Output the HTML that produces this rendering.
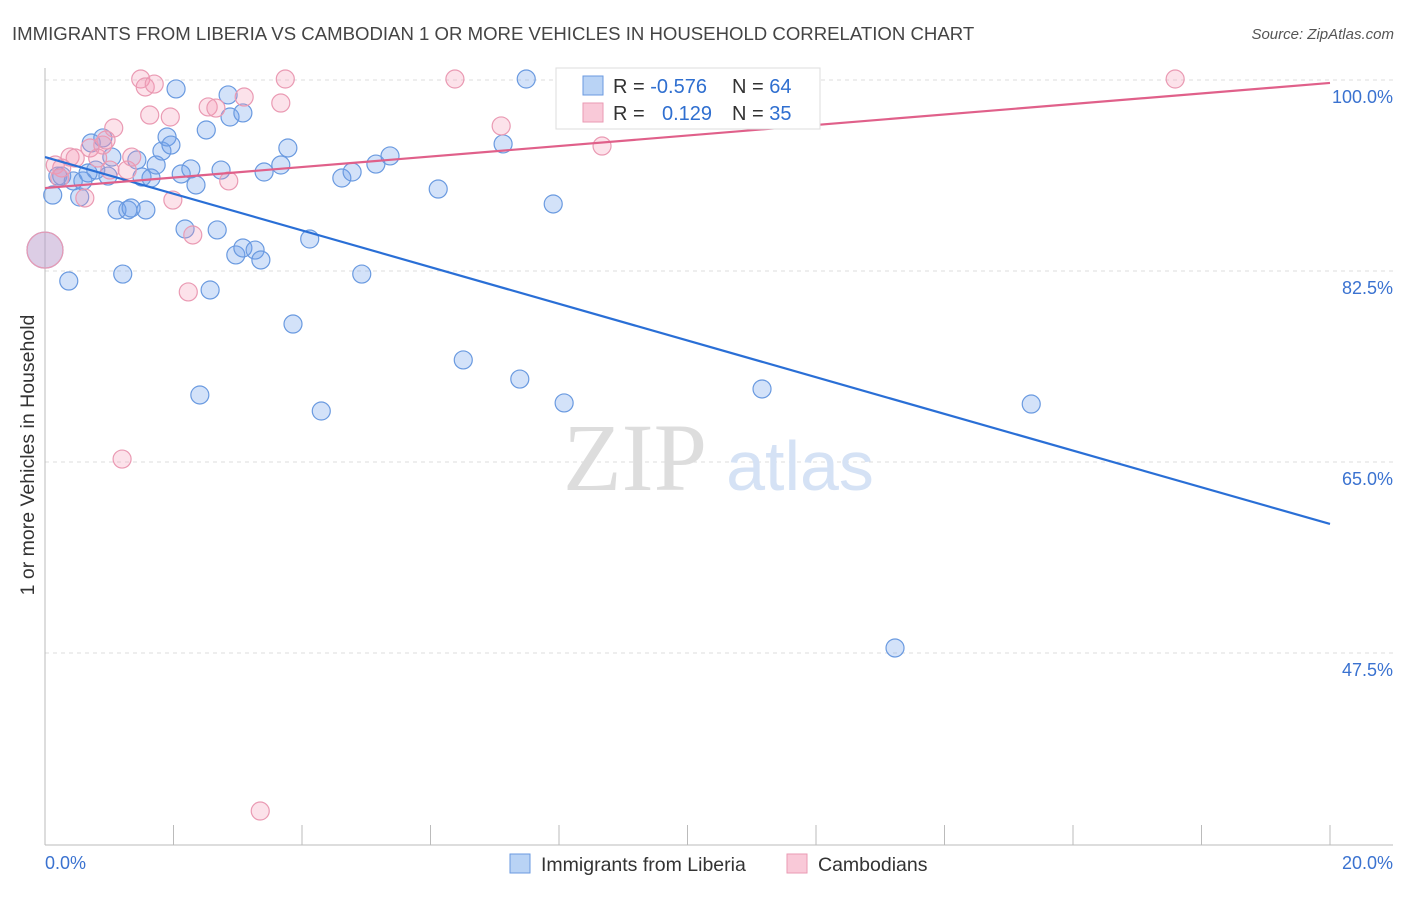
<!DOCTYPE html>
<html><head><meta charset="utf-8"><style>
body{margin:0;background:#fff;font-family:"Liberation Sans",sans-serif;}
</style></head><body>
<svg width="1406" height="892" xmlns="http://www.w3.org/2000/svg">
<text x="12" y="40" font-size="18.6" fill="#444">IMMIGRANTS FROM LIBERIA VS CAMBODIAN 1 OR MORE VEHICLES IN HOUSEHOLD CORRELATION CHART</text>
<text x="1394" y="39" font-size="15" fill="#555" font-style="italic" text-anchor="end">Source: ZipAtlas.com</text>
<g id="grid"></g>
<text x="635" y="490" font-size="96" fill="#ddd" font-family="Liberation Serif" text-anchor="middle">ZIP</text>
<text x="800" y="490" font-size="70" fill="#d5e2f5" text-anchor="middle">atlas</text>
<g id="pts"></g>
<g id="lines"></g>
<g>
<rect x="556" y="68" width="264" height="61" fill="#fff" stroke="#ddd"/>
<rect x="583" y="76" width="20" height="19" fill="#b9d3f5" stroke="#6a9ae0"/>
<rect x="583" y="103" width="20" height="19" fill="#f9c9d8" stroke="#ea9ab3"/>
<text x="613" y="93" font-size="20" fill="#333">R = <tspan fill="#2f6fd0">-0.576</tspan><tspan x="732">N = </tspan><tspan fill="#2f6fd0">64</tspan></text>
<text x="613" y="120" font-size="20" fill="#333">R = <tspan x="662" fill="#2f6fd0">0.129</tspan><tspan x="732">N = </tspan><tspan fill="#2f6fd0">35</tspan></text>
</g>
<text x="34" y="455" font-size="19.5" fill="#333" text-anchor="middle" transform="rotate(-90 34 455)">1 or more Vehicles in Household</text>
<text x="45" y="869" font-size="18" fill="#3a72d0">0.0%</text>
<text x="1393" y="869" font-size="18" fill="#3a72d0" text-anchor="end">20.0%</text>
<g>
<rect x="510" y="854" width="20" height="19" fill="#b9d3f5" stroke="#6a9ae0"/>
<text x="541" y="871" font-size="19.5" fill="#333">Immigrants from Liberia</text>
<rect x="787" y="854" width="20" height="19" fill="#f9c9d8" stroke="#ea9ab3"/>
<text x="818" y="871" font-size="19.5" fill="#333">Cambodians</text>
</g>
</svg>
<script>
const yTicks=[100,82.5,65,47.5];
const yTickLabels=["100.0%","82.5%","65.0%","47.5%"];
const blueX=[0.12,0.20,0.26,0.37,0.44,0.54,0.59,0.67,0.72,0.79,0.90,0.98,1.04,1.12,1.21,1.29,1.34,1.43,1.51,1.57,1.65,1.73,1.82,1.90,1.96,2.04,2.12,2.18,2.27,2.35,2.41,2.51,2.57,2.68,2.74,2.85,2.88,2.97,3.08,3.08,3.27,3.36,3.41,3.67,3.78,3.86,4.12,4.30,4.62,4.78,4.93,5.15,5.37,6.12,6.51,7.13,7.39,7.49,7.91,8.08,11.16,13.23,15.35,0.0];
const blueY=[89.46,91.2,91.2,81.58,90.75,89.28,90.75,91.48,94.23,91.75,94.69,91.2,92.94,88.09,82.22,88.09,88.27,92.67,91.11,88.09,91.02,92.21,93.49,94.78,94.04,99.18,91.39,86.35,91.85,90.38,71.14,95.42,80.76,86.26,91.75,98.63,96.61,83.97,96.98,84.61,84.42,83.51,91.57,92.21,93.77,77.64,85.43,69.67,91.02,91.57,82.22,92.3,93.04,90.01,74.35,94.14,72.6,100.09,88.64,70.41,71.69,47.96,70.31,84.42];
const pinkX=[1.49,1.56,1.70,0.16,0.26,0.39,0.47,0.62,0.70,0.82,0.90,1.01,1.07,1.20,1.28,1.35,1.63,1.95,1.99,2.23,2.30,2.54,2.66,2.86,3.10,3.67,3.74,6.38,7.10,8.67,17.59,3.35,0,0.95,0.23];
const pinkY=[100.09,99.36,99.63,92.21,91.94,92.94,92.85,89.19,93.77,92.85,94.04,91.75,95.6,65.27,91.75,92.94,96.79,96.61,89.0,80.58,85.8,97.53,97.43,90.75,98.44,97.89,100.09,100.09,95.79,93.95,100.09,33.02,84.42,94.5,91.02];
const blueTrend=[92.94,59.32];
const pinkTrend=[90.10,99.73];
const NS="http://www.w3.org/2000/svg";
const X=v=>45+v*64.25, Y=v=>80+(100-v)*10.914;
function mk(t,a,p){const e=document.createElementNS(NS,t);for(const k in a)e.setAttribute(k,a[k]);p.appendChild(e);return e;}
const g=document.getElementById('grid');
yTicks.forEach((t,i)=>{
 const l=mk('line',{x1:45,x2:1393,y1:Y(t),y2:Y(t),stroke:'#ddd','stroke-dasharray':'4,4'},g);
 
 
 const tx=mk('text',{x:1393,y:Y(t)+23,'font-size':18,fill:'#3a72d0','text-anchor':'end'},g);
 tx.textContent=yTickLabels[i];
 
 
});
mk('line',{x1:45,x2:45,y1:68,y2:845,stroke:'#bbb'},g);
mk('line',{x1:45,x2:1393,y1:845,y2:845,stroke:'#bbb'},g);
for(let i=0;i<=10;i++){const t=mk('line',{x1:X(i*2),x2:X(i*2),y1:825,y2:845,stroke:'#bbb'},g);
 
 }
const p=document.getElementById('pts');
function pts(xs,ys,fill,stroke,name){xs.forEach((x,i)=>{const big=(x===0);
 const c=mk('circle',{cx:X(x),cy:Y(ys[i]),r:big?18:9,fill:fill,stroke:stroke,'stroke-width':1.2},p);
 
 });}
pts(blueX,blueY,'rgba(110,160,235,0.3)','#6a9ae0','liberia-point');
pts(pinkX,pinkY,'rgba(245,150,180,0.28)','#ea9ab3','cambodian-point');
const L=document.getElementById('lines');
const b=mk('line',{x1:X(0),y1:Y(blueTrend[0]),x2:X(20),y2:Y(blueTrend[1]),stroke:'#2a6fd6','stroke-width':2.2},L);


const q=mk('line',{x1:X(0),y1:Y(pinkTrend[0]),x2:X(20),y2:Y(pinkTrend[1]),stroke:'#e0608a','stroke-width':2.2},L);


</script>
</body></html>
